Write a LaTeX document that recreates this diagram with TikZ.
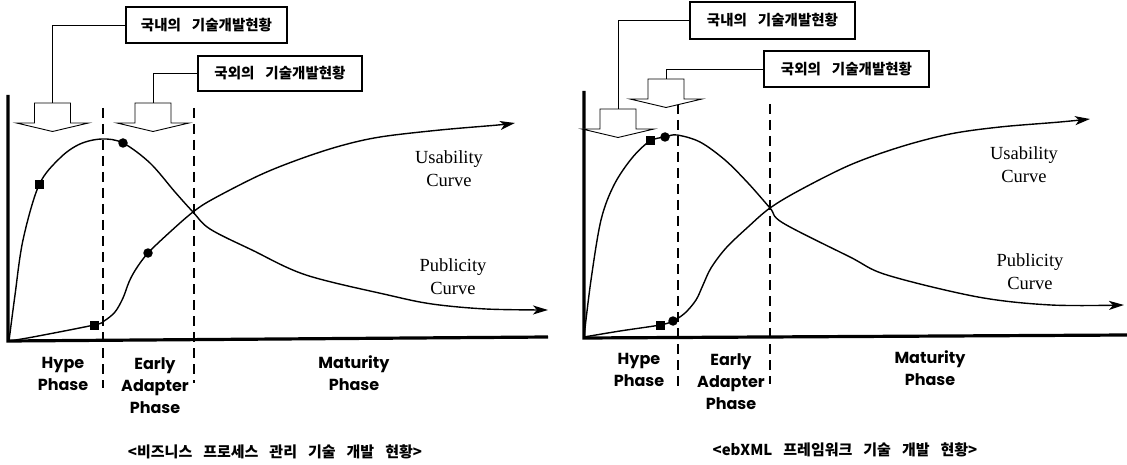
\documentclass[tikz,border=0pt]{standalone}
\usepackage{fontspec}
\usetikzlibrary{arrows.meta}
\newfontfamily\kfont{Noto Sans CJK KR}
\newfontfamily\pfont{Poppins}
\newfontfamily\sfont{Liberation Serif}
\newcommand\kwide{\spaceskip 11pt\relax}
\tikzset{
 ax/.style={line width=3.2pt},
 dsh/.style={line width=2.8pt, dash pattern=on 10pt off 6pt},
 crv/.style={line width=1.4pt, line join=round},
 crvarr/.style={crv,-{Stealth[length=15pt,width=9pt,inset=4pt]}},
 kbox/.style={draw,line width=1.1pt,minimum height=36pt,inner sep=0pt,font={\kfont\bfseries\fontsize{14.5}{16}\selectfont\kwide}},
 conn/.style={line width=0.9pt},
 blk/.style={draw,line width=0.9pt,fill=white,line join=miter},
 phase/.style={align=center,font={\pfont\bfseries\fontsize{16}{22}\selectfont}},
 clabel/.style={align=center,font={\sfont\fontsize{18.5}{23}\selectfont}},
 capt/.style={font={\kfont\bfseries\fontsize{15}{16}\selectfont\kwide}},
 sqm/.style={fill=black,minimum size=9pt,inner sep=0pt},
 dotm/.style={circle,fill=black,minimum size=9.5pt,inner sep=0pt},
}
\newcommand\blkarrow[3]{%
 \coordinate (#3) at (#1,#2);
 \begin{scope}[shift={(#1,#2)}]
  \draw[blk] (-18,0) -- (18,0) -- (18,20) -- (36,20) -- (0,28.5) -- (-36,20) -- (-18,20) -- cycle;
 \end{scope}}
\begin{document}
\begin{tikzpicture}[x=1pt,y=-1pt]
\useasboundingbox (0,0) rectangle (1127,465);

% ================= LEFT PANEL =================
\draw[ax] (8,95) -- (8,341) -- (548,337);
\draw[dsh] (103,108) -- (103,388);
\draw[dsh] (194,108) -- (194,383);

\draw[crvarr] plot[smooth,tension=0.55] coordinates {(9,341) (15,295) (23,240) (39,185) (60,158) (80,144) (102,139) (123,143) (150,163) (175,192) (193,212) (210,229) (252,250) (306,275) (388,295) (432,304) (486,309) (548,310)};
\draw[crvarr] plot[smooth,tension=0.55] coordinates {(9,341) (33,337) (94,325) (104,321) (115,312) (123,298) (129,282) (136,269) (148,253) (170,232) (193,212) (213,199) (260,175) (300,159) (340,146) (380,137) (440,130) (498,125) (515,123)};

\node[sqm] (sqL1) at (39,185) {};
\node[dotm] (dtL1) at (123,143) {};
\node[sqm] (sqL2) at (94,325) {};
\node[dotm] (dtL2) at (148,253) {};

\node[kbox,minimum width=161pt] (b1L) at (206.5,25) {국내의 기술개발현황};
\node[kbox,minimum width=164pt,minimum height=35pt] (b2L) at (280,73.5) {국외의 기술개발현황};
\blkarrow{52.5}{103}{a1L}
\blkarrow{153}{103}{a2L}
\draw[conn] (b1L.west) -| (a1L);
\draw[conn] (b2L.west) -| (a2L);

\node[clabel] (uL) at (449,169) {Usability\\Curve};
\node[clabel] (pL) at (453,276.5) {Publicity\\Curve};

\node[phase] (hL) at (63,374) {Hype\\Phase};
\node[phase] (eL) at (155,385.5) {Early\\Adapter\\Phase};
\node[phase] (mL) at (354,373.5) {Maturity\\Phase};

\node[capt] (cL) at (275,452) {<비즈니스 프로세스 관리 기술 개발 현황>};

% ================= RIGHT PANEL =================
\draw[ax] (584,91) -- (584,338) -- (1127,335);
\draw[dsh] (678,104) -- (678,388);
\draw[dsh] (770,104) -- (770,384);

\draw[crvarr] plot[smooth,tension=0.55] coordinates {(584,337) (591,280) (601,220) (614,185) (632,158) (650,141) (665,137) (677,135) (700,142) (725,160) (748,183) (770,208) (783,223) (850,257) (887,275) (978,297) (1051,305) (1124,305)};
\draw[crvarr] plot[smooth,tension=0.55] coordinates {(584,337) (620,331) (660,325) (673,321) (685,313) (696,300) (703,285) (711,268) (726,248) (748,227) (770,208) (800,190) (850,165) (900,147) (950,134) (1000,127) (1060,122) (1090,119)};

\node[sqm] (sqR1) at (650,141) {};
\node[dotm] (dtR1) at (665,137) {};
\node[sqm] (sqR2) at (660,325) {};
\node[dotm] (dtR2) at (673,321) {};

\node[kbox,minimum width=165pt,minimum height=37pt] (b1R) at (772.5,20.5) {국내의 기술개발현황};
\node[kbox,minimum width=165pt] (b2R) at (846.5,69) {국외의 기술개발현황};
\blkarrow{618}{109}{a1R}
\blkarrow{666}{79}{a2R}
\draw[conn] (b1R.west) -| (a1R);
\draw[conn] (b2R.west) -| (a2R);

\node[clabel] (uR) at (1024,165) {Usability\\Curve};
\node[clabel] (pR) at (1030,272) {Publicity\\Curve};

\node[phase] (hR) at (639,370) {Hype\\Phase};
\node[phase] (eR) at (731,381.5) {Early\\Adapter\\Phase};
\node[phase] (mR) at (930,368.5) {Maturity\\Phase};

\node[capt] (cR) at (845,450) {<ebXML 프레임워크 기술 개발 현황>};
\end{tikzpicture}
\end{document}
